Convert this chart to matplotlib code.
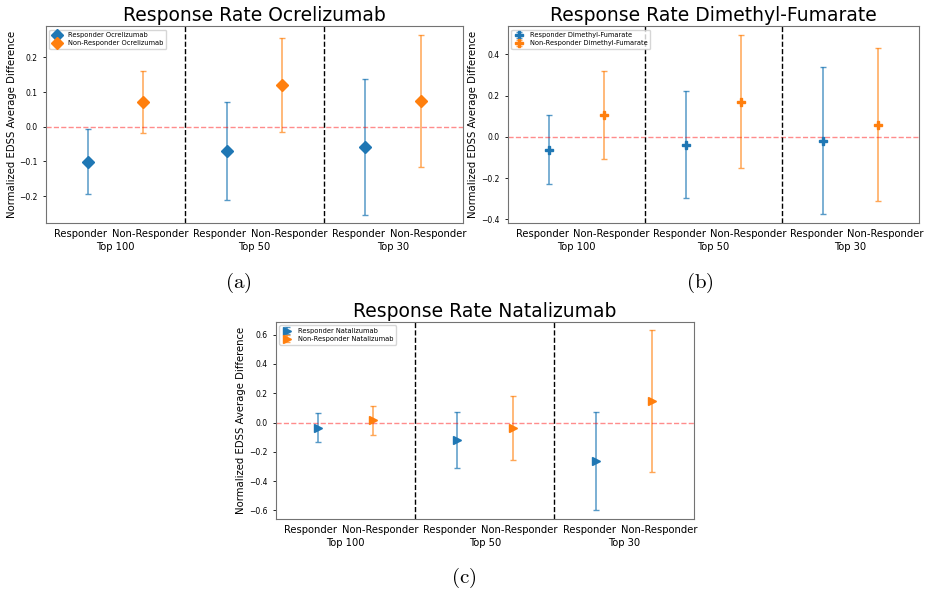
import numpy as np
import matplotlib.pyplot as plt

groups = ['Top 100', 'Top 50', 'Top 30']
classes = ['Responder', 'Non-Responder']

# Ocrelizumab
ocr_resp_mean = [-0.101, -0.071, -0.058]
ocr_resp_err = [0.094, 0.141, 0.196]
ocr_non_mean = [0.072, 0.120, 0.074]
ocr_non_err = [0.090, 0.135, 0.190]

# Dimethyl-Fumarate
dmf_resp_mean = [-0.061, -0.037, -0.018]
dmf_resp_err = [0.166, 0.261, 0.358]
dmf_non_mean = [0.105, 0.171, 0.060]
dmf_non_err = [0.213, 0.323, 0.372]

# Natalizumab
nat_resp_mean = [-0.036, -0.119, -0.265]
nat_resp_err = [0.100, 0.190, 0.335]
nat_non_mean = [0.016, -0.039, 0.144]
nat_non_err = [0.099, 0.218, 0.485]

ylims = [(-0.278, 0.29), (-0.418, 0.537), (-0.659, 0.686)]

fig = plt.figure(figsize=(9.26, 5.95), dpi=100)

axes_pos = [
    [0.0497, 0.625, 0.450, 0.331],
    [0.5486, 0.625, 0.444, 0.331],
    [0.298, 0.1277, 0.451, 0.331],
]


def draw_panel(ax, name, marker, resp_mean, resp_err, non_mean, non_err, ylim):
    x = np.arange(len(groups)) * 2
    ax.errorbar(x + 0.6, resp_mean, yerr=resp_err, fmt=marker, color='#1f77b4',
                ecolor=(0.12, 0.47, 0.71, 0.75), capsize=2.5, markersize=6,
                elinewidth=1.1, label='Responder ' + name)
    ax.errorbar(x + 1.4, non_mean, yerr=non_err, fmt=marker, color='#ff7f0e',
                ecolor=(1.0, 0.5, 0.05, 0.7), capsize=2.5, markersize=6,
                elinewidth=1.1, label='Non-Responder ' + name)
    ax.axhline(0, color='red', linestyle='--', alpha=0.45, linewidth=1)
    for b in [2, 4]:
        ax.axvline(b, color='black', linestyle='--', linewidth=1)
    ax.set_xlim(0, 6)
    ax.set_ylim(*ylim)
    ticks = []
    labels = []
    for g in x:
        ticks += [g + 0.5, g + 1.5]
        labels += classes
    ax.set_xticks(ticks)
    ax.set_xticklabels(labels, fontsize=7.2)
    ax.tick_params(axis='x', length=0, pad=4)
    ax.tick_params(axis='y', labelsize=5.5, length=2.5, width=0.6)
    for g, lab in zip(x, groups):
        ax.annotate(lab, xy=(g + 1, 0), xycoords=('data', 'axes fraction'),
                    xytext=(0, -13.5), textcoords='offset points',
                    ha='center', va='top', fontsize=7.2)
    ax.set_ylabel('Normalized EDSS Average Difference', fontsize=7.3, labelpad=2)
    ax.set_title('Response Rate ' + name, fontsize=13.5, pad=4)
    for s in ax.spines.values():
        s.set_color('0.45')
    ax.legend(loc='upper left', fontsize=4.8, handlelength=1.6, borderpad=0.4,
              labelspacing=0.3)


ax1 = fig.add_axes(axes_pos[0])
draw_panel(ax1, 'Ocrelizumab', 'D', ocr_resp_mean, ocr_resp_err,
           ocr_non_mean, ocr_non_err, ylims[0])
ax2 = fig.add_axes(axes_pos[1])
draw_panel(ax2, 'Dimethyl-Fumarate', 'P', dmf_resp_mean, dmf_resp_err,
           dmf_non_mean, dmf_non_err, ylims[1])
ax3 = fig.add_axes(axes_pos[2])
draw_panel(ax3, 'Natalizumab', '>', nat_resp_mean, nat_resp_err,
           nat_non_mean, nat_non_err, ylims[2])

for cap, cx, cy in [('a', 238, 283), ('b', 700, 283), ('c', 464, 578)]:
    fig.text(cx / 926, 1 - cy / 595, r'$\mathrm{(' + cap + r')}$', fontsize=15,
             math_fontfamily='cm', ha='center', va='center')

fig.savefig('out.png', dpi=100)
